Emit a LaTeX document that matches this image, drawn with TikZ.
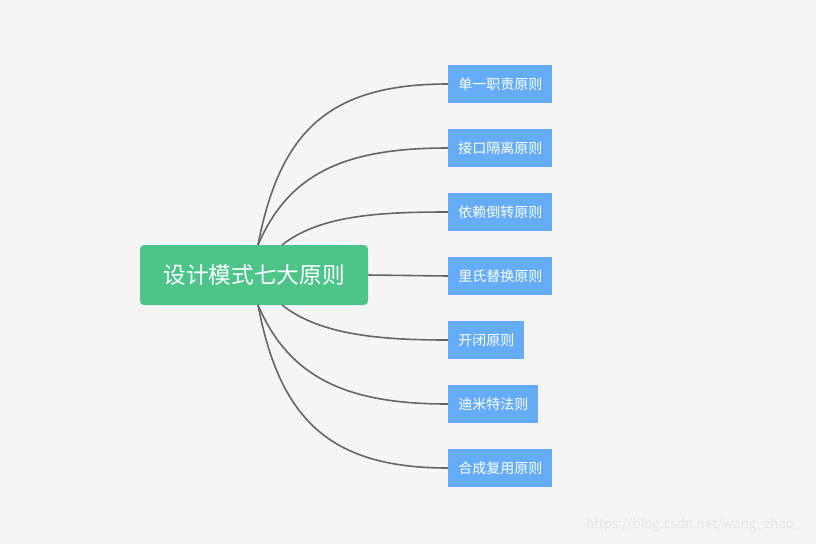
\documentclass[tikz,border=0pt]{standalone}
\usepackage{fontspec}
\setmainfont{Noto Sans CJK SC}
\usetikzlibrary{positioning}
\definecolor{bgcol}{HTML}{F5F5F5}
\definecolor{rootcol}{HTML}{4DC48A}
\definecolor{leafcol}{HTML}{64ADF6}
\definecolor{linecol}{HTML}{666666}

\begin{document}
\begin{tikzpicture}[x=0.75pt, y=-0.75pt,
  root/.style={fill=rootcol, rounded corners=3pt, text=white, minimum width=171pt, minimum height=45pt, inner sep=0pt, font=\fontsize{17}{17}\selectfont},
  leaf/.style={fill=leafcol, text=white, anchor=west, minimum height=28.5pt, inner xsep=7.5pt, font=\fontsize{10.5}{10.5}\selectfont},
  link/.style={draw=linecol, line width=1.2pt}]

  \fill[bgcol] (0,0) rectangle (816,544);

  \node[root] (root) at (254,275) {设计模式七大原则};

  \node[leaf] (p1) at (448,84)  {单一职责原则};
  \node[leaf] (p2) at (448,148) {接口隔离原则};
  \node[leaf] (p3) at (448,212) {依赖倒转原则};
  \node[leaf] (p4) at (448,276) {里氏替换原则};
  \node[leaf] (p5) at (448,340) {开闭原则};
  \node[leaf] (p6) at (448,404) {迪米特法则};
  \node[leaf] (p7) at (448,468) {合成复用原则};

  \coordinate (top)  at (258,245);
  \coordinate (top3) at (282,245);
  \coordinate (bot)  at (258,305);
  \coordinate (bot5) at (282,305);

  \draw[link] (top)  .. controls (280,130) and (330,84)  .. (p1.west);
  \draw[link] (top)  .. controls (290,170) and (350,148) .. (p2.west);
  \draw[link] (top3) .. controls (320,215) and (380,212) .. (p3.west);
  \draw[link] (root.east) -- (p4.west);
  \draw[link] (bot5) .. controls (320,335) and (380,340) .. (p5.west);
  \draw[link] (bot)  .. controls (290,380) and (350,404) .. (p6.west);
  \draw[link] (bot)  .. controls (280,420) and (330,468) .. (p7.west);

  \node[text=white!80!gray, anchor=east, font=\fontsize{10}{10}\selectfont] (mark) at (806,525) {https://blog.csdn.net/wang\_zhao\_};
\end{tikzpicture}
\end{document}
